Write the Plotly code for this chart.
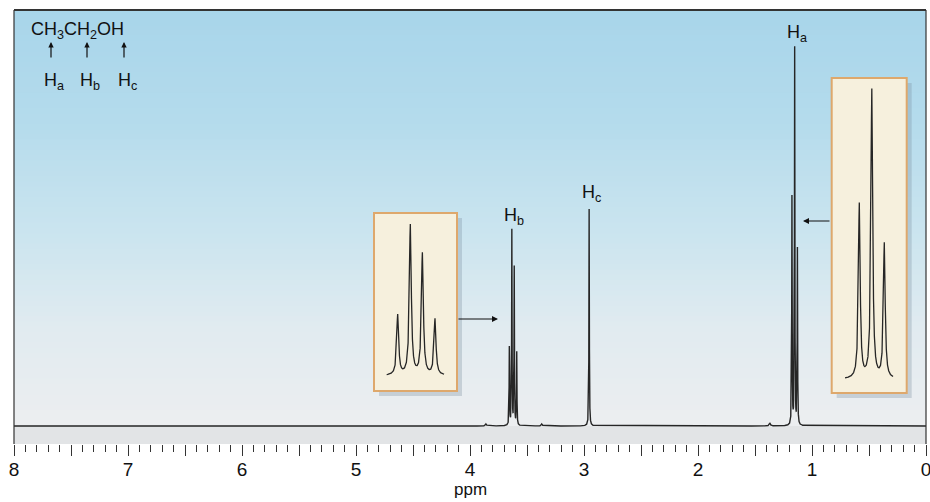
import numpy as np
import plotly.graph_objects as go

# ---------------- data ----------------
HA_PPM = [1.176, 1.152, 1.128]          # CH3 triplet
HA_INT = [228, 377, 176]
HB_PPM = [3.655, 3.633, 3.612, 3.590]   # CH2 quartet
HB_INT = [78, 195, 158, 73]
HC_PPM = [2.955]                        # OH singlet
HC_INT = [217]
MINOR_PPM = [3.86, 3.37, 1.37]          # tiny impurity bumps
MINOR_INT = [2, 2, 3]
HALF_WIDTH = 0.002                      # Lorentzian half-width (ppm)
MINOR_HALF_WIDTH = 0.006

TICK_VALUES = [0, 1, 2, 3, 4, 5, 6, 7, 8]
TICK_LABELS = ["0", "1", "2", "3", "4", "5", "6", "7", "8"]

ALL_PPM = HA_PPM + HB_PPM + HC_PPM
ALL_INT = HA_INT + HB_INT + HC_INT

# ---------------- spectrum from the peak list ----------------
def spectrum(x):
    y = np.zeros_like(x)
    for p, h in zip(ALL_PPM, ALL_INT):
        y += h * HALF_WIDTH**2 / (HALF_WIDTH**2 + (x - p) ** 2)
    for p, h in zip(MINOR_PPM, MINOR_INT):
        y += h * MINOR_HALF_WIDTH**2 / (MINOR_HALF_WIDTH**2 + (x - p) ** 2)
    return y

grids = [np.linspace(0, 8, 4001)]
for p in ALL_PPM + MINOR_PPM:
    grids.append(np.linspace(p - 0.06, p + 0.06, 1201))
x_main = np.unique(np.concatenate(grids))
y_main = spectrum(x_main)

x_hb = np.linspace(3.5743, 3.6742, 1500)
y_hb = spectrum(x_hb)
x_ha = np.linspace(1.1113, 1.2034, 1500)
y_ha = spectrum(x_ha)

# ---------------- geometry helpers (pixel -> paper) ----------------
L, R, T, B = 14, 926, 10, 444
W, H = R - L, B - T


def px(xp):
    return (xp - L) / W


def py(yp):
    return (B - yp) / H


FONT = "Liberation Sans, Arial, Helvetica, sans-serif"
LINE = "#262626"

fig = go.Figure()
fig.add_trace(go.Scatter(x=x_main, y=y_main, mode="lines",
                         line=dict(color=LINE, width=1.4),
                         hoverinfo="skip", showlegend=False))
fig.add_trace(go.Scatter(x=x_hb, y=y_hb, mode="lines", xaxis="x2", yaxis="y2",
                         line=dict(color=LINE, width=1.3),
                         hoverinfo="skip", showlegend=False))
fig.add_trace(go.Scatter(x=x_ha, y=y_ha, mode="lines", xaxis="x3", yaxis="y3",
                         line=dict(color=LINE, width=1.3),
                         hoverinfo="skip", showlegend=False))

shapes = []
# background gradient (light blue at top fading to pale grey)
stops = [(10, (168, 213, 234)), (120, (180, 219, 236)), (240, (204, 229, 239)),
         (330, (225, 235, 240)), (426, (236, 238, 240))]
N = 80
for i in range(N):
    y0 = 10 + (426 - 10) * i / N
    y1 = 10 + (426 - 10) * (i + 1) / N
    ym = (y0 + y1) / 2
    for (a, ca), (b, cb) in zip(stops[:-1], stops[1:]):
        if a <= ym <= b:
            t = (ym - a) / (b - a)
            c = tuple(int(round(ca[k] + (cb[k] - ca[k]) * t)) for k in range(3))
            break
    shapes.append(dict(type="rect", xref="paper", yref="paper", layer="below",
                       x0=0, x1=1, y0=py(y1) - 0.001, y1=py(y0) + 0.001,
                       fillcolor="rgb(%d,%d,%d)" % c, line=dict(width=0)))
shapes.append(dict(type="rect", xref="paper", yref="paper", layer="below",
                   x0=0, x1=1, y0=0, y1=py(426), fillcolor="rgb(226,228,230)",
                   line=dict(width=0)))

# inset boxes with shadows
for (x0, y0, x1, y1) in [(374, 213, 457, 391), (831.7, 78, 906.7, 393)]:
    shapes.append(dict(type="rect", xref="paper", yref="paper", layer="below",
                       x0=px(x0 + 5), x1=px(x1 + 5), y0=py(y1 + 5), y1=py(y0 + 5),
                       fillcolor="rgba(120,140,155,0.30)", line=dict(width=0)))
    shapes.append(dict(type="rect", xref="paper", yref="paper", layer="below",
                       x0=px(x0), x1=px(x1), y0=py(y1), y1=py(y0),
                       fillcolor="rgb(246,240,221)",
                       line=dict(color="rgb(222,168,108)", width=2)))

# frame: top, left, right
shapes.append(dict(type="line", xref="paper", yref="paper", x0=0, x1=1, y0=1, y1=1,
                   line=dict(color="#333", width=2)))
shapes.append(dict(type="line", xref="paper", yref="paper", x0=0, x1=0, y0=0, y1=1,
                   line=dict(color="#333", width=1.2)))
shapes.append(dict(type="line", xref="paper", yref="paper", x0=1, x1=1, y0=0, y1=1,
                   line=dict(color="#333", width=1.2)))

ann = []
tf = dict(family=FONT, size=18, color="#111")


def label(xx, yy, text, xanchor="center"):
    ann.append(dict(x=px(xx), y=py(yy), xref="paper", yref="paper", text=text,
                    showarrow=False, font=tf, xanchor=xanchor, yanchor="middle"))


def arrow(hx, hy, ax, ay, size=1.0):
    ann.append(dict(x=px(hx), y=py(hy), xref="paper", yref="paper", text="",
                    showarrow=True, ax=ax, ay=ay, arrowhead=2, arrowsize=size,
                    arrowwidth=1.2, arrowcolor="#111"))


# peak labels
label(797, 33, "H<sub>a</sub>")
label(514, 216, "H<sub>b</sub>")
label(591, 193, "H<sub>c</sub>")
# formula
label(29, 31, "CH<sub>3</sub>CH<sub>2</sub>OH", xanchor="left")
for xx, lab in [(51, "H<sub>a</sub>"), (87, "H<sub>b</sub>"), (124, "H<sub>c</sub>")]:
    arrow(xx, 42, 0, 17, size=0.9)
    label(xx + 3, 81, lab)
# inset arrows
arrow(498, 319, -41, 0)
arrow(803, 221, 28, 0)
# axis title
ann.append(dict(x=px(470), y=py(489), xref="paper", yref="paper", text="ppm",
                showarrow=False, xanchor="center", yanchor="middle",
                font=dict(family=FONT, size=17, color="#111")))

major = [v / 2 for v in range(0, 17)]
major_text = [TICK_LABELS[TICK_VALUES.index(int(v))] if v == int(v) else "" for v in major]

fig.update_layout(
    width=930, height=502, autosize=False,
    margin=dict(l=L, r=930 - R, t=T, b=502 - B, pad=0, autoexpand=False),
    paper_bgcolor="white", plot_bgcolor="rgba(0,0,0,0)",
    shapes=shapes, annotations=ann, showlegend=False,
    xaxis=dict(range=[8, 0], showgrid=False, zeroline=False, showline=False,
               automargin=False,
               tickmode="array", tickvals=major, ticktext=major_text,
               ticks="outside", ticklen=11, tickwidth=1.2, tickcolor="#333",
               ticklabeloverflow="allow", ticklabelstandoff=-3,
               minor=dict(dtick=0.1, tick0=0, ticks="outside", ticklen=7,
                          tickwidth=1.1, tickcolor="#333", showgrid=False),
               tickfont=dict(family=FONT, size=19, color="#111")),
    yaxis=dict(range=[-18, 416], visible=False, automargin=False),
    xaxis2=dict(domain=[px(374), px(457)], range=[3.6963, 3.5517], anchor="y2",
                visible=False),
    yaxis2=dict(domain=[py(391), py(213)], range=[-19.9, 211.5], anchor="x2",
                visible=False),
    xaxis3=dict(domain=[px(831.7), px(906.7)], range=[1.229, 1.085], anchor="y3",
                visible=False),
    yaxis3=dict(domain=[py(393), py(78)], range=[-17.9, 393.6], anchor="x3",
                visible=False),
)

fig.write_html("out.html")
